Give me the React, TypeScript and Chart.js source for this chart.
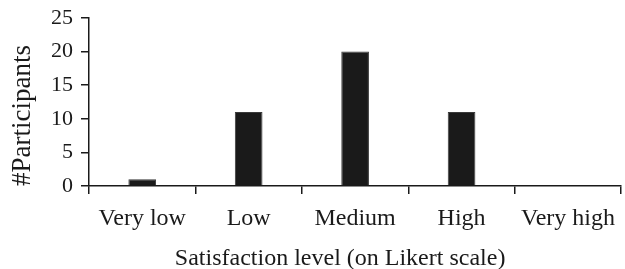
import React, { useEffect, useRef } from "react";
import { Chart, registerables } from "chart.js";

Chart.register(...registerables);

const categories = ["Very low", "Low", "Medium", "High", "Very high"];
const participants = [1, 11, 20, 11, 0];
const yTicks = [0, 5, 10, 15, 20, 25];

const FONT = "'Liberation Serif', 'Times New Roman', serif";
const INK = "#1a1a1a";

export default function App() {
  const ref = useRef<HTMLCanvasElement | null>(null);

  useEffect(() => {
    document.body.style.margin = "0";
    const canvas = ref.current;
    if (!canvas) return;
    const chart = new Chart(canvas, {
      type: "bar",
      data: {
        labels: categories,
        datasets: [
          {
            data: participants,
            backgroundColor: "#1a1a1a",
            borderColor: "#3a3a3a",
            borderWidth: 1,
            barPercentage: 0.26,
            categoryPercentage: 1,
          },
        ],
      },
      options: {
        animation: false,
        responsive: false,
        maintainAspectRatio: false,
        layout: { padding: { top: 18, right: 0, left: 0, bottom: 0 } },
        plugins: { legend: { display: false }, tooltip: { enabled: false } },
        scales: {
          x: {
            offset: true,
            grid: {
              offset: true,
              drawOnChartArea: false,
              drawTicks: true,
              tickLength: 8,
              color: INK,
              lineWidth: 1.5,
            },
            border: { display: true, color: INK, width: 1.5 },
            ticks: {
              color: INK,
              padding: 10,
              font: { family: FONT, size: 24 },
              maxRotation: 0,
              autoSkip: false,
            },
            title: {
              display: true,
              text: "Satisfaction level (on Likert scale)     ",
              color: INK,
              font: { family: FONT, size: 24 },
              padding: { top: 0, bottom: -4 },
            },
            afterFit: (s: any) => {
              s.height = 83;
            },
          },
          y: {
            min: 0,
            max: 25,
            afterBuildTicks: (s: any) => {
              s.ticks = yTicks.map((v) => ({ value: v }));
            },
            grid: {
              drawOnChartArea: false,
              drawTicks: true,
              tickLength: 8,
              color: INK,
              lineWidth: 1.5,
            },
            border: { display: true, color: INK, width: 1.5 },
            ticks: {
              color: INK,
              padding: 8,
              font: { family: FONT, size: 22, lineHeight: 0.8 },
            },
            title: {
              display: true,
              text: "#Participants    ",
              color: INK,
              font: { family: FONT, size: 27 },
              padding: { top: 7, bottom: 0 },
            },
            afterFit: (s: any) => {
              s.width = 89;
            },
          },
        },
      },
    });
    return () => chart.destroy();
  }, []);

  return (
    <div style={{ position: "absolute", left: 0, top: 0, width: 625, height: 269 }}>
      <canvas ref={ref} width={625} height={269} style={{ width: 625, height: 269 }} />
    </div>
  );
}
